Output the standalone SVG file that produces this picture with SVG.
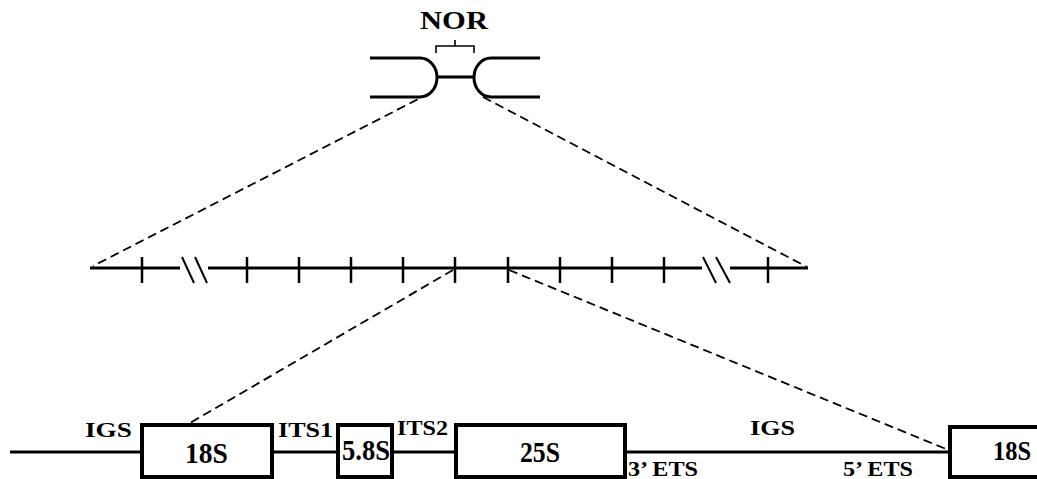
<svg xmlns="http://www.w3.org/2000/svg" width="1037" height="479" viewBox="0 0 1037 479">
<style>
.t{font-family:"Liberation Serif","Times New Roman",serif;font-weight:bold;fill:#000}
.lbl{font-size:22px}
.big{font-size:29px}
.ln{stroke:#000;stroke-width:3;fill:none}
.box{stroke:#000;stroke-width:4;fill:#fff}
.dash{stroke:#000;stroke-width:1.8;stroke-dasharray:9 5;fill:none}
.tick{stroke:#000;stroke-width:2.5}
.sl{stroke:#000;stroke-width:2}
</style>
<rect width="1037" height="479" fill="#fff"/>
<g id="connectors">
<line class="dash" x1="430" y1="93" x2="93" y2="266"/>
<line class="dash" x1="483" y1="97" x2="807" y2="267"/>
<line class="dash" x1="453" y1="270" x2="190" y2="423"/>
<line class="dash" x1="509" y1="270" x2="946" y2="449"/>
</g>
<g id="chromosome">
<path class="ln" d="M370,58 H420 A17,19.5 0 0 1 420,97 H370"/>
<path class="ln" d="M540,58 H491 A17,19.5 0 0 0 491,97 H540"/>
<line class="ln" x1="437" y1="77" x2="474" y2="77"/>
<path d="M436,53 V46 H474 V53 M455,46 V40" stroke="#000" stroke-width="1.6" fill="none"/>
<text class="t" x="420" y="29" font-size="25" textLength="68" lengthAdjust="spacingAndGlyphs">NOR</text>
</g>
<g id="repeat-array">
<path class="ln" d="M90,268 H180 M208,268 H702 M730,268 H808"/>
<g class="tick">
<line x1="142" y1="257" x2="142" y2="283"/>
<line x1="247" y1="257" x2="247" y2="283"/>
<line x1="299" y1="257" x2="299" y2="283"/>
<line x1="351" y1="257" x2="351" y2="283"/>
<line x1="403" y1="257" x2="403" y2="283"/>
<line x1="455" y1="257" x2="455" y2="283"/>
<line x1="508" y1="257" x2="508" y2="283"/>
<line x1="560" y1="257" x2="560" y2="283"/>
<line x1="612" y1="257" x2="612" y2="283"/>
<line x1="664" y1="257" x2="664" y2="283"/>
<line x1="768" y1="257" x2="768" y2="283"/>
</g>
<g class="sl">
<line x1="182" y1="257" x2="194" y2="283"/>
<line x1="195" y1="257" x2="207" y2="283"/>
<line x1="703" y1="257" x2="716" y2="283"/>
<line x1="716" y1="257" x2="730" y2="283"/>
</g>
</g>
<g id="spacer-lines">
<path class="ln" d="M10,452 H142 M272,452 H338 M392,452 H456 M625,452 H950"/>
</g>
<g id="box-18S">
<rect class="box" x="142" y="425" width="130" height="52"/>
<text class="t big" x="185" y="463" textLength="43" lengthAdjust="spacingAndGlyphs">18S</text>
</g>
<g id="box-5-8S">
<rect class="box" x="338" y="425" width="54" height="52"/>
<text class="t big" x="342" y="460" textLength="48" lengthAdjust="spacingAndGlyphs">5.8S</text>
</g>
<g id="box-25S">
<rect class="box" x="456" y="425" width="169" height="52"/>
<text class="t big" x="520" y="462" textLength="40" lengthAdjust="spacingAndGlyphs">25S</text>
</g>
<g id="box-18S-next">
<path class="box" d="M1037,427 H950 V477 H1037"/>
<text class="t" x="993" y="460" font-size="27" textLength="38" lengthAdjust="spacingAndGlyphs">18S</text>
</g>
<g id="labels">
<text class="t lbl" x="85" y="437" textLength="47" lengthAdjust="spacingAndGlyphs">IGS</text>
<text class="t lbl" x="278" y="437" textLength="55" lengthAdjust="spacingAndGlyphs">ITS1</text>
<text class="t lbl" x="397" y="435" textLength="51" lengthAdjust="spacingAndGlyphs">ITS2</text>
<text class="t lbl" x="750" y="435" textLength="45" lengthAdjust="spacingAndGlyphs">IGS</text>
<text class="t lbl" x="628" y="476" font-size="21" textLength="70" lengthAdjust="spacingAndGlyphs">3’ ETS</text>
<text class="t lbl" x="843" y="476" font-size="21" textLength="70" lengthAdjust="spacingAndGlyphs">5’ ETS</text>
</g>
</svg>
